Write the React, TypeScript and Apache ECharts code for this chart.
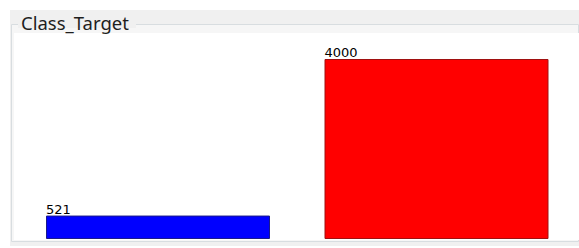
import React, { useEffect, useRef } from "react";
import * as echarts from "echarts";

const categories = ["Class A", "Class B"];
const values = [521, 4000];
const barColors = ["#0000ff", "#ff0000"];
const titleText = "Class_Target";

export default function App() {
  const ref = useRef<HTMLDivElement>(null);
  useEffect(() => {
    const chart = echarts.init(ref.current!, null, { renderer: "svg" });
    chart.setOption({
      animation: false,
      backgroundColor: "#ffffff",
      graphic: [
        { type: "rect", z: -10, silent: true, shape: { x: 10, y: 10, width: 569, height: 236 }, style: { fill: "#f0f0f0" } },
        { type: "rect", z: -9, silent: true, shape: { x: 11.5, y: 24.5, width: 567, height: 217 }, style: { fill: "#f6f6f6", stroke: "#d8dde0", lineWidth: 1 } },
        { type: "rect", z: -8, silent: true, shape: { x: 14, y: 33, width: 565, height: 207 }, style: { fill: "#ffffff" } },
        { type: "rect", z: -7, silent: true, shape: { x: 18, y: 18, width: 118, height: 10 }, style: { fill: "#f0f0f0" } },
        {
          type: "text", z: 10, silent: true, x: 21, y: 13,
          style: { text: titleText, fill: "#1e1e1e", font: "18.5px 'Noto Sans'", textVerticalAlign: "top" },
        },
      ],
      grid: { left: 18.75, right: 3.25, top: 59, bottom: 9 },
      xAxis: { type: "category", data: categories, show: false },
      yAxis: { type: "value", min: 0, max: 4000, show: false },
      series: [
        {
          type: "bar",
          barWidth: 224,
          data: values.map((v, i) => ({
            value: v,
            itemStyle: { color: barColors[i], borderColor: i === 0 ? "#1a1a8a" : "#a01010", borderWidth: 1 },
          })),
          label: {
            show: true,
            position: [0, -13],
            color: "#000",
            fontFamily: "DejaVu Sans",
            fontSize: 13,
          },
        },
      ],
    });
    return () => chart.dispose();
  }, []);
  return <div ref={ref} style={{ position: "fixed", left: 0, top: 0, width: 579, height: 248 }} />;
}
